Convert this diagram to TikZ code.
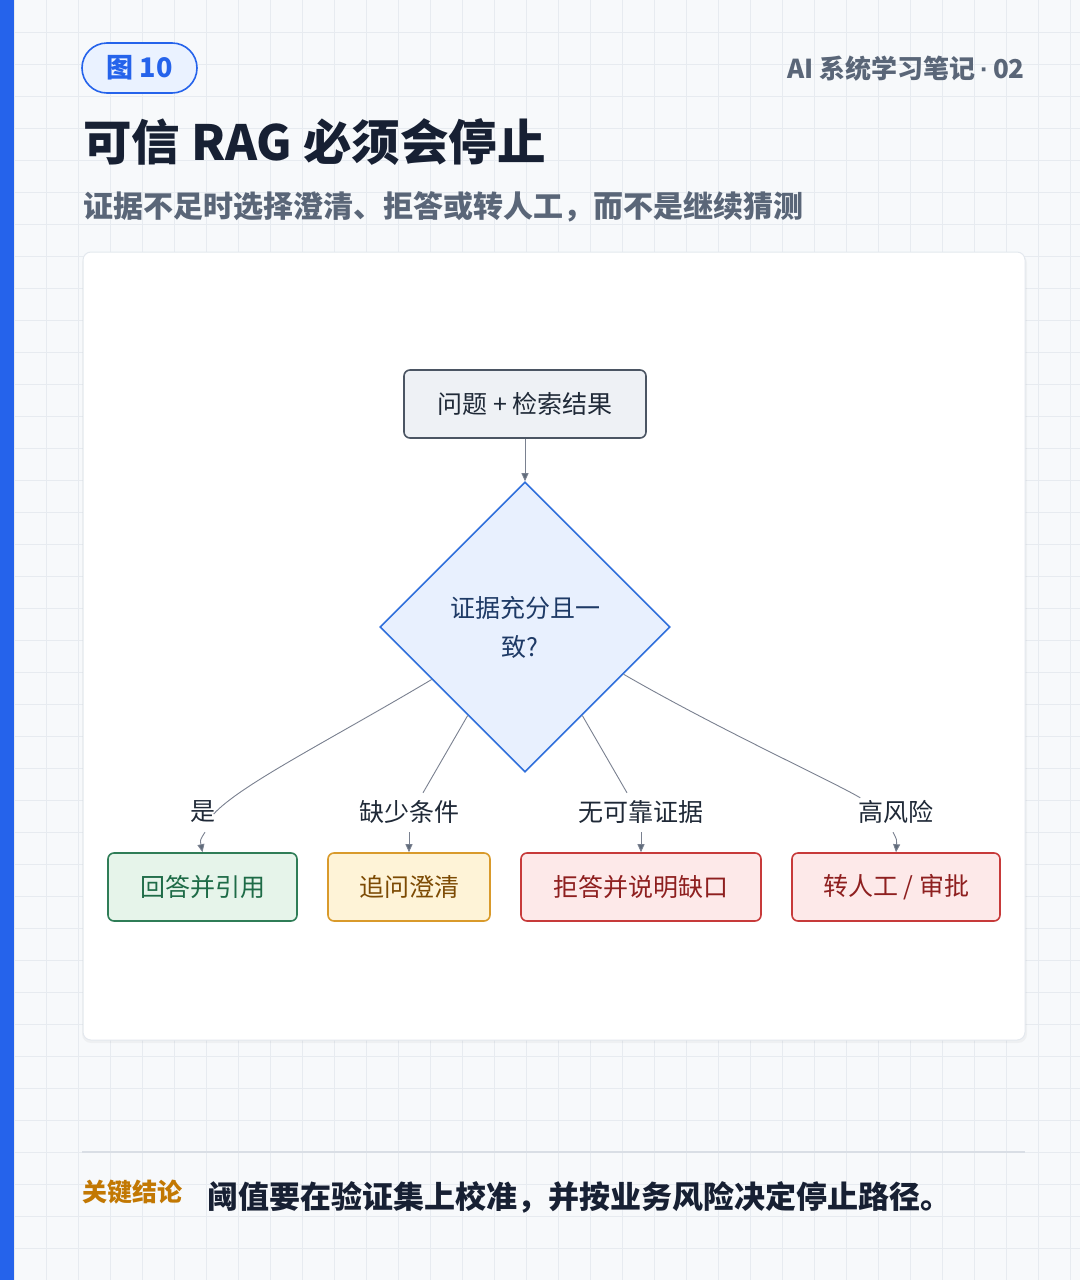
\documentclass[tikz,border=0pt]{standalone}
\usepackage{fontspec}
\setmainfont{Noto Sans CJK SC}
\newfontfamily\latinf{Liberation Sans}
\usetikzlibrary{shapes.geometric,arrows.meta,calc}
\definecolor{bgc}{HTML}{F7F9FB}
\definecolor{gridc}{HTML}{E7EBF0}
\definecolor{barblue}{HTML}{2563EB}
\definecolor{pillfill}{HTML}{EAF2FF}
\definecolor{titlec}{HTML}{172033}
\definecolor{subc}{HTML}{5A6678}
\definecolor{cardborder}{HTML}{E3E8EE}
\definecolor{edgec}{HTML}{7A8190}
\definecolor{tipc}{HTML}{5F6B7A}
\definecolor{topfill}{HTML}{EEF1F5}
\definecolor{topdraw}{HTML}{4B5563}
\definecolor{toptext}{HTML}{1F2937}
\definecolor{dfill}{HTML}{E8F0FE}
\definecolor{ddraw}{HTML}{2F6FDB}
\definecolor{dtext}{HTML}{1E3A66}
\definecolor{gfill}{HTML}{E6F4EA}
\definecolor{gdraw}{HTML}{2F7D57}
\definecolor{gtext}{HTML}{1E6B47}
\definecolor{afill}{HTML}{FEF3D7}
\definecolor{adraw}{HTML}{D99A2B}
\definecolor{atext}{HTML}{7C4A03}
\definecolor{rfill}{HTML}{FDE9E9}
\definecolor{rdraw}{HTML}{C73A3A}
\definecolor{rtext}{HTML}{8E1F1F}
\definecolor{keyc}{HTML}{C27803}
\definecolor{rulec}{HTML}{D9DEE5}
\begin{document}
\begin{tikzpicture}[x=1pt,y=-1pt,
  box/.style={rectangle,rounded corners=6pt,line width=1.6pt,minimum height=68pt,inner sep=0pt,font=\fontsize{25pt}{30pt}\selectfont},
  lbl/.style={inner sep=0pt,minimum height=36pt,font=\fontsize{25pt}{30pt}\selectfont,text=toptext},
  edge/.style={draw=edgec,line width=0.9pt},
  arr/.style={draw=edgec,line width=0.9pt,-{Triangle[length=8pt,width=7pt,fill=tipc]}}
]
\useasboundingbox (0,0) rectangle (1080,1280);
\fill[bgc] (0,0) rectangle (1080,1280);
\foreach \i in {0,...,33} \draw[gridc,line width=1pt] ({14+32*\i},0) -- ({14+32*\i},1280);
\foreach \j in {1,...,39} \draw[gridc,line width=1pt] (14,{32*\j}) -- (1080,{32*\j});
\fill[barblue] (0,0) rectangle (14,1280);

% header
\node[draw=barblue,fill=pillfill,line width=1.6pt,rounded corners=25pt,minimum width=115pt,minimum height=50pt,inner sep=0pt,text=barblue,font=\fontsize{27pt}{30pt}\selectfont\bfseries] (pill) at (139.5,68) {图 10};
\node[anchor=east,inner sep=0pt,text=subc,font=\fontsize{26pt}{30pt}\selectfont\bfseries] (series) at (1025,69) {AI 系统学习笔记{\latinf\,·\,}02};
\node[anchor=west,inner sep=0pt,text=titlec,font=\fontsize{48.5pt}{56pt}\selectfont\bfseries] (title) at (83,142) {可信 RAG 必须会停止};
\node[anchor=west,inner sep=0pt,text=subc,font=\fontsize{30pt}{36pt}\selectfont\bfseries] (subtitle) at (83,207) {证据不足时选择澄清、拒答或转人工，而不是继续猜测};

% card
\fill[black,opacity=0.035,rounded corners=9pt] (82,254) rectangle (1027,1043);
\draw[cardborder,fill=white,line width=1pt,rounded corners=8pt] (83,252) rectangle (1025,1040);

% diagram
\node[box,draw=topdraw,fill=topfill,text=toptext,minimum width=242pt] (top) at (525,404) {问题 + 检索结果};
\node[diamond,draw=ddraw,fill=dfill,line width=1.6pt,minimum width=290pt,minimum height=290pt,inner sep=0pt,text=dtext,align=center,font=\fontsize{25pt}{39pt}\selectfont] (d) at (525,627) {证据充分且一\\致?\hspace*{10pt}};
\draw[arr] (top.south) -- (d.north);

\node[box,draw=gdraw,fill=gfill,text=gtext,minimum width=189pt] (b1) at (202.5,887) {回答并引用};
\node[box,draw=adraw,fill=afill,text=atext,minimum width=162pt] (b2) at (409,887) {追问澄清};
\node[box,draw=rdraw,fill=rfill,text=rtext,minimum width=240pt] (b3) at (641,887) {拒答并说明缺口};
\node[box,draw=rdraw,fill=rfill,text=rtext,minimum width=208pt] (b4) at (896,887) {转人工 / 审批};

\node[lbl] (l1) at (203,812) {是};
\node[lbl] (l2) at (409,812) {缺少条件};
\node[lbl] (l3) at (641,812) {无可靠证据};
\node[lbl] (l4) at (896,812) {高风险};

\coordinate (s1) at ($(d.west)!0.36!(d.south)$);
\coordinate (s2) at ($(d.west)!0.607!(d.south)$);
\coordinate (s3) at ($(d.south)!0.393!(d.east)$);
\coordinate (s4) at ($(d.south)!0.676!(d.east)$);

\draw[edge] (s1) .. controls (330,740) and (240,785) .. ($(l1.east)+(-2,2)$);
\draw[edge] (s2) -- ($(l2.north)+(14,-1)$);
\draw[edge] (s3) -- ($(l3.north)+(-14,-1)$);
\draw[edge] (s4) .. controls (720,730) and (830,780) .. ($(l4.north west)+(2,4)$);

\draw[arr] ($(l1.south)+(2,2)$) .. controls (200,840) .. (b1.north);
\draw[arr] ($(l2.south)+(0,2)$) -- (b2.north);
\draw[arr] ($(l3.south)+(0,2)$) -- (b3.north);
\draw[arr] ($(l4.south)+(-3,2)$) .. controls (897,840) .. (b4.north);

% bottom
\draw[rulec,line width=2pt] (82,1152) -- (1025,1152);
\node[anchor=west,inner sep=0pt,text=keyc,font=\fontsize{25pt}{30pt}\selectfont\bfseries] (key) at (82,1192) {关键结论};
\node[anchor=west,inner sep=0pt,text=titlec,font=\fontsize{31pt}{36pt}\selectfont\bfseries] (concl) at (207,1197) {阈值要在验证集上校准，并按业务风险决定停止路径。};
\end{tikzpicture}
\end{document}
